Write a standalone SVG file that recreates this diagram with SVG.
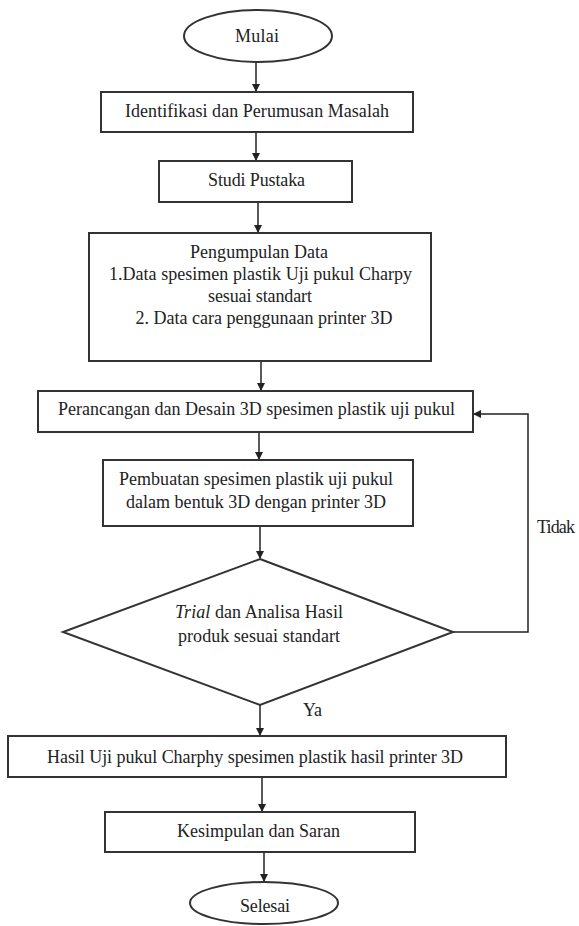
<svg xmlns="http://www.w3.org/2000/svg" width="579" height="926" viewBox="0 0 579 926">
<defs>
<marker id="ah" markerWidth="8" markerHeight="8" refX="7" refY="4" orient="auto" markerUnits="userSpaceOnUse">
<path d="M0,0 L8,4 L0,8 Z" fill="#222"/>
</marker>
<style>
.s{fill:#fff;stroke:#333;stroke-width:2}
.t{font-family:'Liberation Serif','DejaVu Serif',serif;font-size:18px;fill:#222}
.c{fill:none;stroke:#222;stroke-width:1.5;marker-end:url(#ah)}
</style>
</defs>
<rect width="579" height="926" fill="#fff"/>
<g id="connectors">
<line class="c" x1="256" y1="62" x2="256" y2="91"/>
<line class="c" x1="256" y1="132" x2="256" y2="160"/>
<line class="c" x1="258" y1="202" x2="258" y2="232"/>
<line class="c" x1="261" y1="361" x2="261" y2="390"/>
<line class="c" x1="259" y1="432" x2="259" y2="459"/>
<line class="c" x1="260" y1="526" x2="260" y2="558"/>
<line class="c" x1="260" y1="705" x2="260" y2="735"/>
<line class="c" x1="262" y1="777" x2="262" y2="811"/>
<line class="c" x1="264" y1="852" x2="264" y2="881"/>
<polyline class="c" points="453,632 528,632 528,414 474,414"/>
<text class="t" x="537" y="533" textLength="38">Tidak</text>
<text class="t" x="303" y="716" textLength="19">Ya</text>
</g>
<g id="mulai">
<ellipse class="s" cx="258" cy="36" rx="74" ry="26"/>
<text class="t" x="235" y="42" textLength="44">Mulai</text>
</g>
<g id="identifikasi">
<rect class="s" x="101" y="92" width="312" height="40"/>
<text class="t" x="125" y="117" textLength="264">Identifikasi dan Perumusan Masalah</text>
</g>
<g id="studi">
<rect class="s" x="159" y="161" width="193" height="41"/>
<text class="t" x="208" y="186" textLength="97">Studi Pustaka</text>
</g>
<g id="pengumpulan">
<rect class="s" x="89" y="233" width="342" height="128"/>
<text class="t" x="190" y="258" textLength="138">Pengumpulan Data</text>
<text class="t" x="109" y="280" textLength="303">1.Data spesimen plastik Uji pukul Charpy</text>
<text class="t" x="208" y="302" textLength="104">sesuai standart</text>
<text class="t" x="264" y="324" text-anchor="middle">2. Data cara penggunaan printer 3D</text>
</g>
<g id="perancangan">
<rect class="s" x="38" y="391" width="435" height="41"/>
<text class="t" x="58" y="415" textLength="397">Perancangan dan Desain 3D spesimen plastik uji pukul</text>
</g>
<g id="pembuatan">
<rect class="s" x="103" y="460" width="310" height="66"/>
<text class="t" x="119" y="485" textLength="274">Pembuatan spesimen plastik uji pukul</text>
<text class="t" x="126" y="508" textLength="260">dalam bentuk 3D dengan printer 3D</text>
</g>
<g id="trial">
<polygon class="s" points="260,559 453,632 260,705 63,632"/>
<text class="t" x="175" y="618" textLength="168"><tspan font-style="italic">Trial</tspan> dan Analisa Hasil</text>
<text class="t" x="178" y="642" textLength="162">produk sesuai standart</text>
</g>
<g id="hasil">
<rect class="s" x="8" y="736" width="498" height="41"/>
<text class="t" x="47" y="763" textLength="416">Hasil Uji pukul Charphy spesimen plastik hasil printer 3D</text>
</g>
<g id="kesimpulan">
<rect class="s" x="105" y="812" width="310" height="40"/>
<text class="t" x="177" y="837" textLength="163">Kesimpulan dan Saran</text>
</g>
<g id="selesai">
<ellipse class="s" cx="264" cy="903" rx="74" ry="21"/>
<text class="t" x="240" y="912" textLength="50">Selesai</text>
</g>
</svg>
